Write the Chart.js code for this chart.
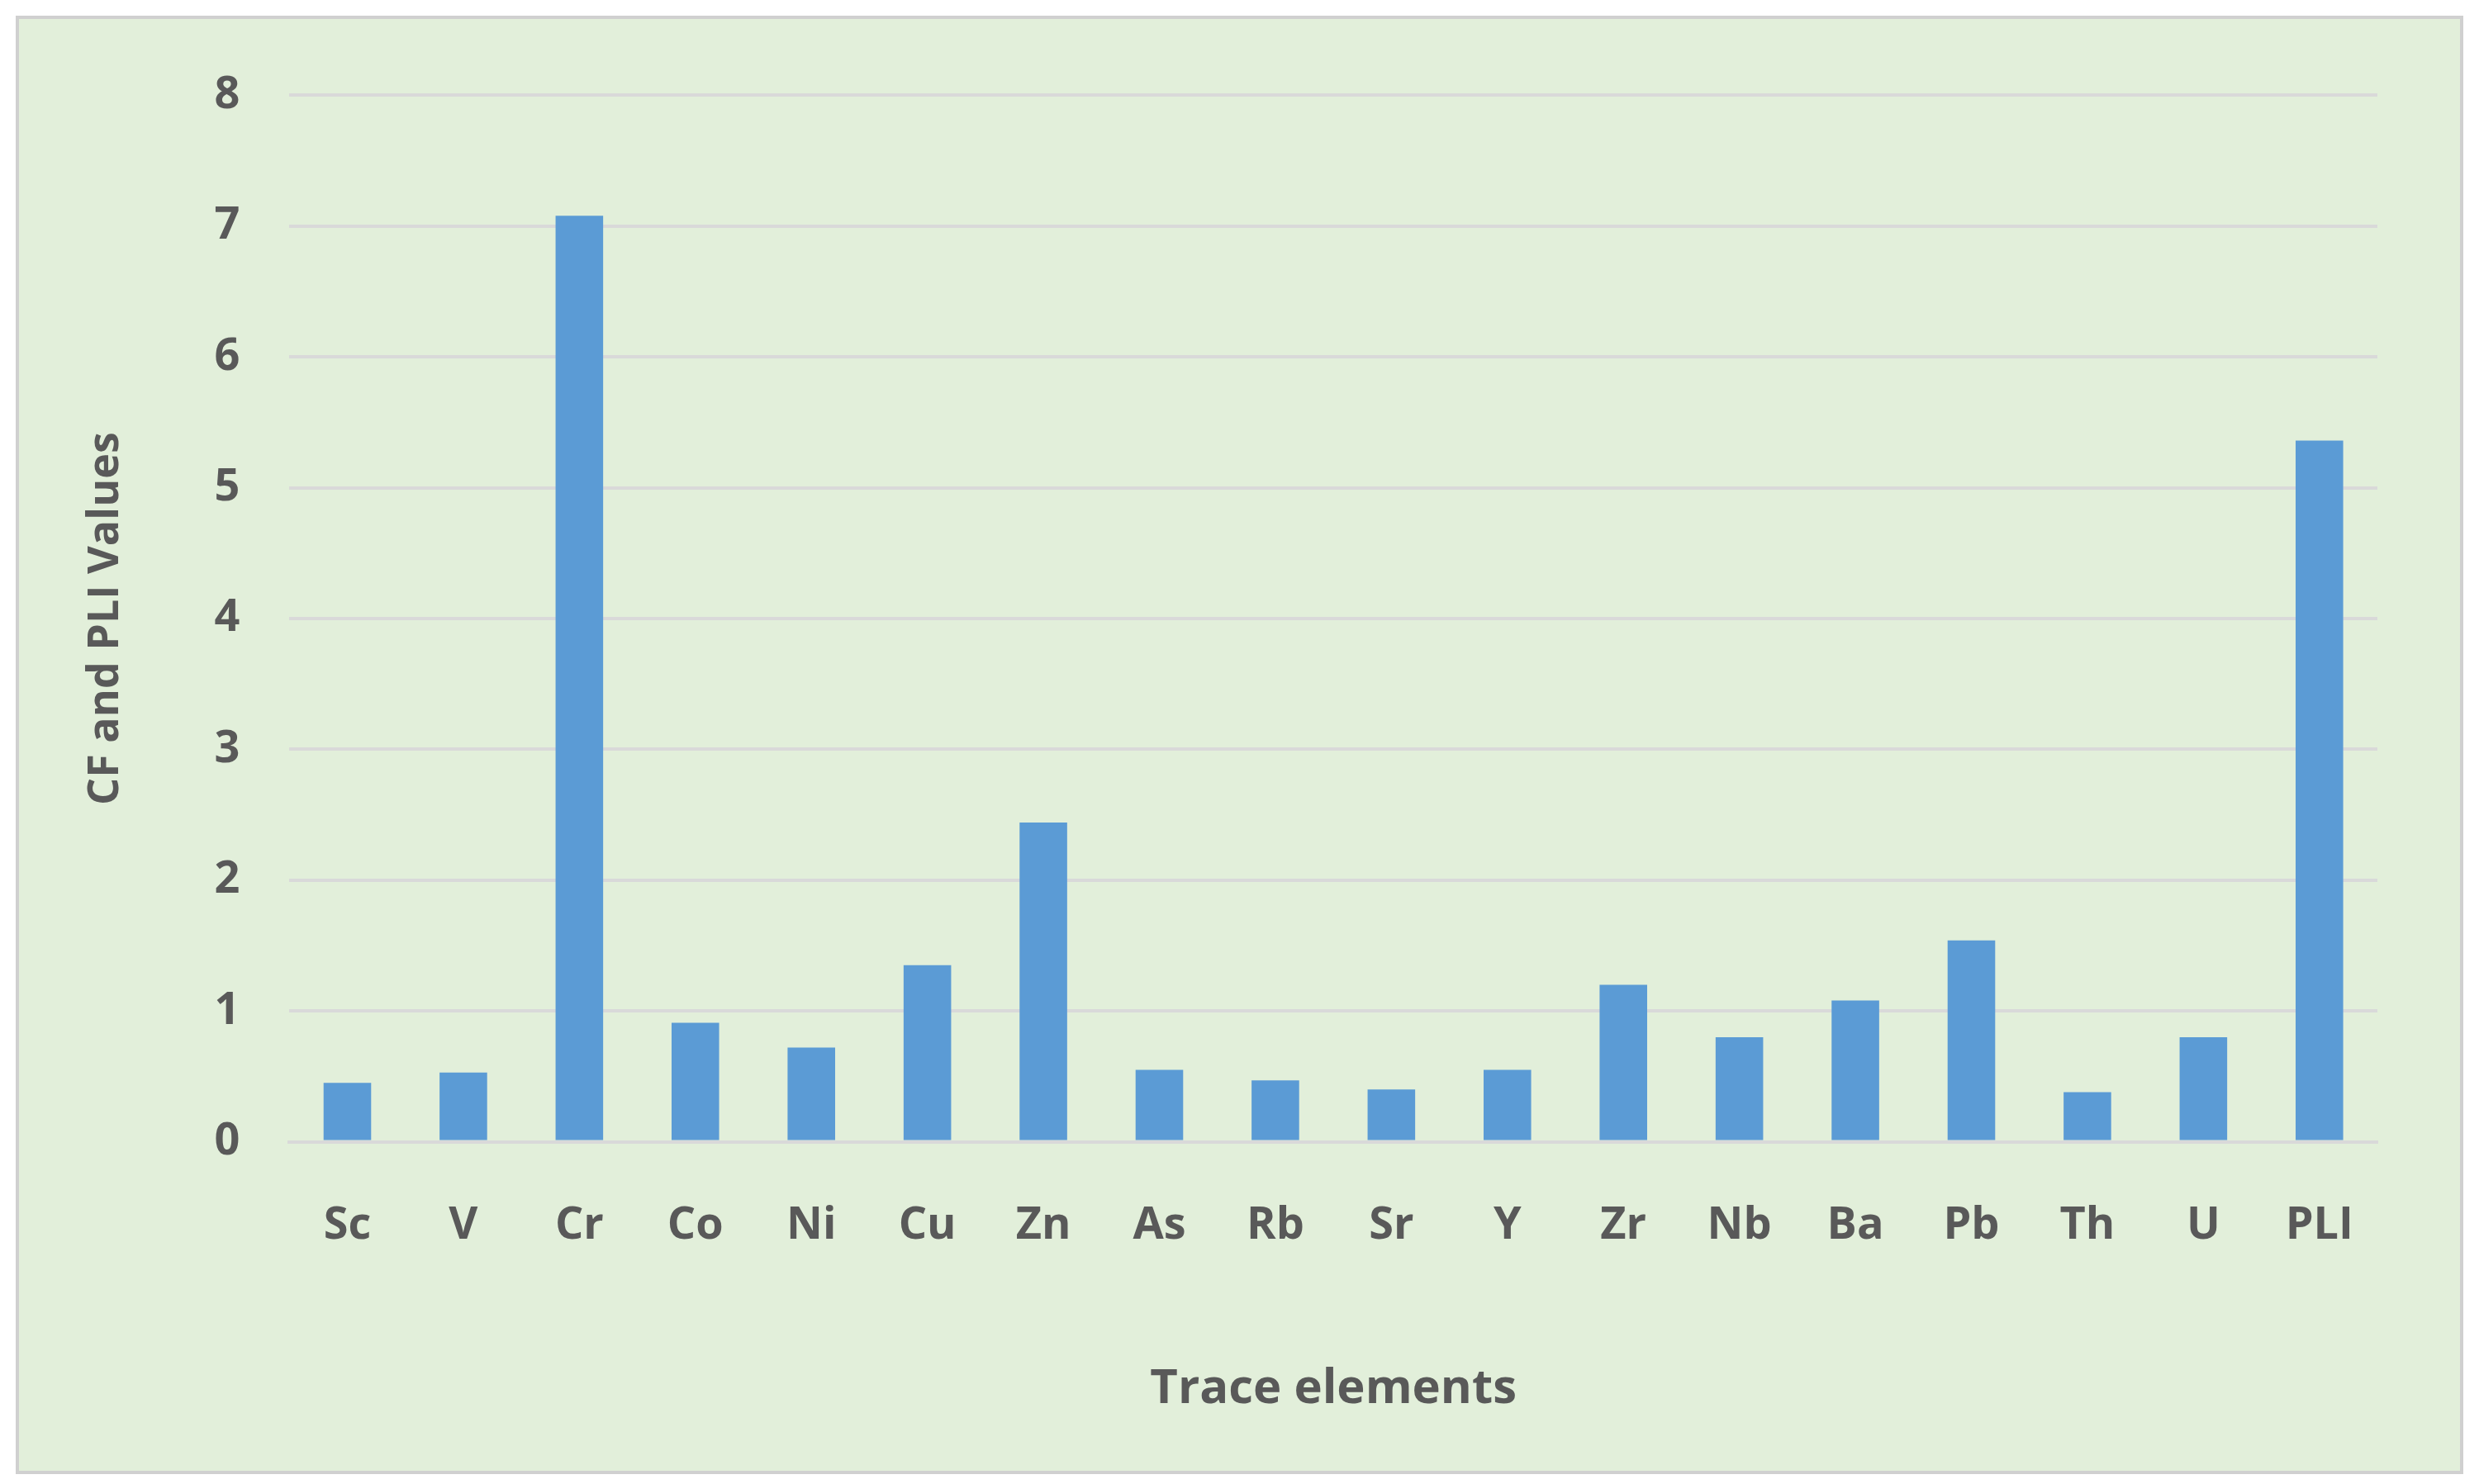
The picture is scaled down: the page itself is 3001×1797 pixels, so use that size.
<!DOCTYPE html>
<html><head><meta charset="utf-8">
<script src="https://cdn.jsdelivr.net/npm/chart.js@4/dist/chart.umd.min.js"></script>
<style>
html,body{margin:0;padding:0;background:#fff;width:3001px;height:1797px;overflow:hidden}
#box{position:absolute;left:19px;top:19px;width:2955px;height:1758px;background:#e2efda;border:4px solid #d0d0d0}
canvas{display:block}
</style></head><body>
<div id="box"><canvas id="c" width="2955" height="1758"></canvas></div>
<script>
const categories=["Sc","V","Cr","Co","Ni","Cu","Zn","As","Rb","Sr","Y","Zr","Nb","Ba","Pb","Th","U","PLI"];
const values=[0.45,0.53,7.08,0.91,0.72,1.35,2.44,0.55,0.47,0.40,0.55,1.20,0.80,1.08,1.54,0.38,0.80,5.36];
const yTicks=[0,1,2,3,4,5,6,7,8];
const font={family:"'Open Sans', sans-serif",weight:"bold",size:54};
new Chart(document.getElementById('c'),{
 type:'bar',
 data:{labels:categories,datasets:[{data:values,backgroundColor:'#5b9bd5',categoryPercentage:1,barPercentage:0.41}]},
 options:{responsive:false,animation:false,
  layout:{padding:{left:70,right:100,top:70,bottom:60}},
  plugins:{legend:{display:false},tooltip:{enabled:false}},
  scales:{
   x:{grid:{display:false},border:{color:'#d9d9d9',width:4},
      ticks:{color:'#595959',font:font,padding:62},
      title:{display:true,text:'Trace elements',color:'#595959',font:{...font,size:58},padding:{top:68}}},
   y:{min:0,max:8,afterBuildTicks:a=>{a.ticks=yTicks.map(v=>({value:v}));},
      grid:{color:'#d9d9d9',lineWidth:4,drawTicks:false},border:{display:false},
      ticks:{color:'#595959',font:font,padding:60},
      title:{display:true,text:'CF and PLI Values',color:'#595959',font:{...font,size:52},padding:{bottom:40}}}
  }}
});
</script></body></html>
